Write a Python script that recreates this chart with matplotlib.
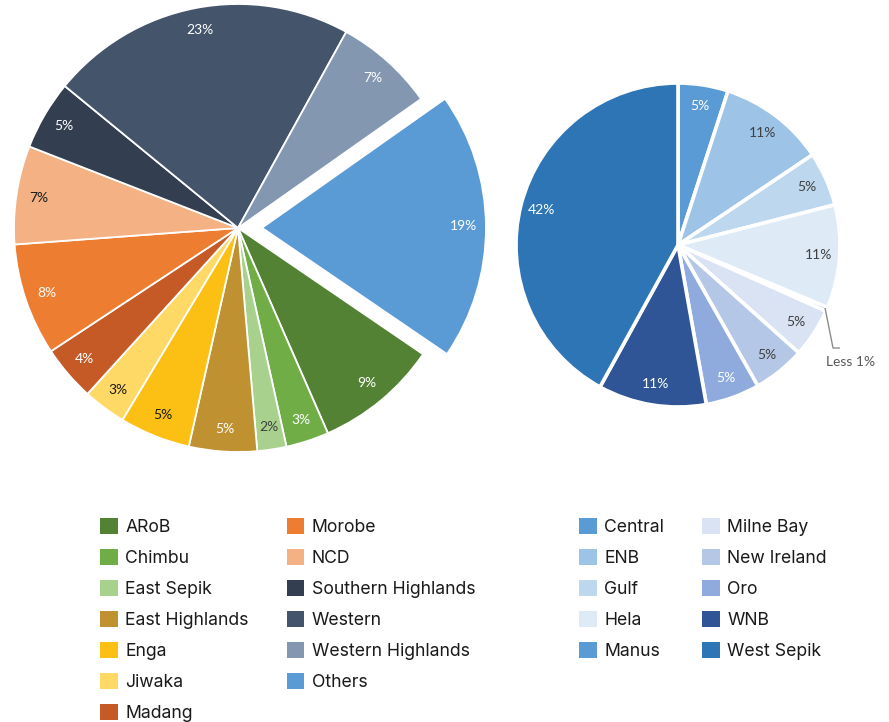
import numpy as np
import matplotlib.pyplot as plt
from matplotlib.patches import Patch

# left pie: provinces
left_names = ['ARoB', 'Chimbu', 'East Sepik', 'East Highlands', 'Enga', 'Jiwaka', 'Madang',
              'Morobe', 'NCD', 'Southern Highlands', 'Western', 'Western Highlands', 'Others']
left_vals = [8.9, 3.1, 2.1, 4.9, 5.1, 3.1, 4.0, 8.1, 7.1, 5.0, 22.1, 7.2, 19.3]
left_labels = ['9%', '3%', '2%', '5%', '5%', '3%', '4%', '8%', '7%', '5%', '23%', '7%', '19%']
left_colors = ['#548235', '#70AD47', '#A9D18E', '#BF9130', '#FBC013', '#FFD966', '#C55A26',
               '#ED7D31', '#F4B183', '#333F50', '#44546A', '#8497B0', '#5B9BD5']
left_txt = ['white', 'white', '#404040', 'white', '#1a1a1a', '#1a1a1a', 'white',
            'white', '#1a1a1a', 'white', 'white', 'white', 'white']

# right pie: breakdown of Others
right_names = ['Central', 'ENB', 'Gulf', 'Hela', 'Manus', 'Milne Bay', 'New Ireland',
               'Oro', 'WNB', 'West Sepik']
right_vals = [5.0, 10.6, 5.4, 10.3, 0.4, 4.9, 5.2, 5.4, 10.8, 42.0]
right_labels = ['5%', '11%', '5%', '11%', '', '5%', '5%', '5%', '11%', '42%']
right_colors = ['#5B9BD5', '#9DC3E6', '#BDD7EE', '#DEEBF7', '#5B9BD5', '#DAE3F3',
                '#B4C7E7', '#8FAADC', '#2F5597', '#2E75B6']
right_txt = ['white', '#404040', '#404040', '#404040', '#404040', '#404040', '#404040',
             'white', 'white', 'white']

W, H = 889, 722
fig = plt.figure(figsize=(W / 100, H / 100), dpi=100)


def pie_axes(cx, cy, r, span=1.25):
    # axes whose data unit 1 equals r pixels, centred on (cx, cy) in pixels from top-left
    return fig.add_axes([(cx - span * r) / W, 1 - (cy + span * r) / H,
                         2 * span * r / W, 2 * span * r / H])


ax1 = pie_axes(238, 228, 224)
explode = [0] * 12 + [0.107]
w1, _ = ax1.pie(left_vals, colors=left_colors, explode=explode, startangle=-34.3,
                counterclock=False, wedgeprops=dict(edgecolor='white', linewidth=1.3))
for w, lab, tc in zip(w1, left_labels, left_txt):
    ang = np.deg2rad((w.theta1 + w.theta2) / 2)
    cx, cy = w.center
    ax1.text(cx + 0.9 * np.cos(ang), cy + 0.9 * np.sin(ang), lab, ha='center', va='center',
             fontsize=10, color=tc, family='Lato')
ax1.set_xlim(-1.25, 1.25)
ax1.set_ylim(-1.25, 1.25)

ax2 = pie_axes(678, 245, 162)
w2, _ = ax2.pie(right_vals, colors=right_colors, startangle=90, counterclock=False,
                wedgeprops=dict(edgecolor='white', linewidth=2.6))
for w, lab, tc in zip(w2, right_labels, right_txt):
    ang = np.deg2rad((w.theta1 + w.theta2) / 2)
    ax2.text(0.87 * np.cos(ang), 0.87 * np.sin(ang), lab, ha='center', va='center',
             fontsize=10, color=tc, family='Lato')
ax2.set_xlim(-1.25, 1.25)
ax2.set_ylim(-1.25, 1.25)

# leader line for the tiny Manus slice
m = w2[4]
ang = np.deg2rad((m.theta1 + m.theta2) / 2)
px, py = 0.99 * np.cos(ang), 0.99 * np.sin(ang)
ax2.plot([px, 0.957, 0.995], [py, -0.636, -0.636], color='#8c8c8c', lw=1, clip_on=False)
ax2.text(1.065, -0.72, 'Less 1%', ha='center', va='center', fontsize=10,
         color='#595959', family='Lato')

leg_kw = dict(frameon=False, ncol=2, loc='upper left', borderpad=0, borderaxespad=0,
              handlelength=1.0, handleheight=1.0, handletextpad=0.42, labelspacing=0.74,
              columnspacing=2.17, prop=dict(family='Inter', size=12.7), labelcolor='#1a1a1a')
fig.legend([Patch(facecolor=c) for c in left_colors], left_names,
           bbox_to_anchor=(100 / W, 1 - 518 / H), **leg_kw)
fig.legend([Patch(facecolor=c) for c in right_colors], right_names,
           bbox_to_anchor=(579 / W, 1 - 518 / H), **leg_kw)

fig.savefig('out.png', dpi=100)
